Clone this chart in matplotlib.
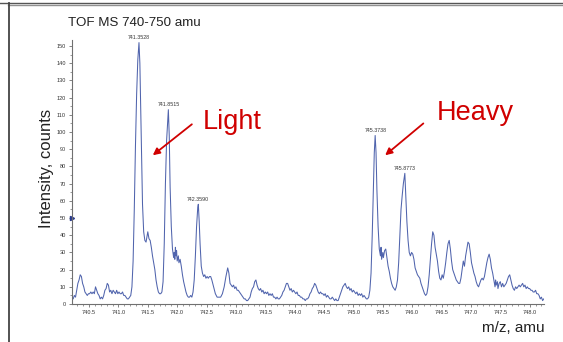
import matplotlib
matplotlib.use("Agg")
import matplotlib.pyplot as plt
from matplotlib.lines import Line2D
from matplotlib.ticker import MultipleLocator

plt.rcParams["font.family"] = ["Liberation Sans", "DejaVu Sans"]

title = "TOF MS 740-750 amu"
x_label = "m/z, amu"
y_label = "Intensity, counts"

# (m/z, counts)
spectrum = [
    (740.21, 3), (740.23, 3), (740.25, 5), (740.27, 4), (740.29, 8), (740.31, 12),
    (740.33, 14), (740.35, 17), (740.37, 16), (740.39, 12), (740.41, 10), (740.43, 7),
    (740.45, 6), (740.47, 5), (740.49, 6), (740.51, 6), (740.53, 7), (740.55, 6),
    (740.57, 7), (740.59, 6), (740.61, 10), (740.63, 8), (740.65, 6), (740.67, 5),
    (740.69, 3), (740.71, 4), (740.73, 3), (740.75, 5), (740.77, 8), (740.79, 9),
    (740.81, 12), (740.83, 11), (740.85, 7), (740.87, 8), (740.89, 6), (740.91, 8),
    (740.93, 7), (740.95, 6), (740.97, 8), (740.99, 6), (741.01, 7), (741.03, 6),
    (741.05, 6), (741.07, 7), (741.09, 5), (741.11, 5), (741.13, 4), (741.15, 3),
    (741.17, 3), (741.19, 4), (741.21, 5), (741.23, 10), (741.25, 25), (741.27, 55),
    (741.29, 92), (741.31, 122), (741.33, 142), (741.35, 152),
    (741.365, 140), (741.38, 112), (741.395, 82), (741.41, 58), (741.43, 42),
    (741.45, 37), (741.47, 36), (741.49, 40), (741.50, 42), (741.52, 38), (741.54, 37),
    (741.56, 33), (741.58, 28), (741.60, 24), (741.62, 20), (741.64, 14), (741.66, 10),
    (741.68, 7), (741.70, 6), (741.72, 6), (741.74, 7), (741.76, 13), (741.78, 35),
    (741.80, 70), (741.82, 95), (741.835, 104), (741.85, 113), (741.865, 98),
    (741.88, 68), (741.90, 45), (741.92, 32), (741.94, 27), (741.95, 30), (741.96, 26),
    (741.97, 33), (741.98, 28), (741.99, 31), (742.00, 25), (742.02, 28), (742.03, 24),
    (742.05, 26), (742.07, 22), (742.09, 17), (742.11, 13), (742.13, 10), (742.15, 7),
    (742.17, 5), (742.19, 4), (742.21, 4), (742.23, 5), (742.25, 4), (742.27, 7),
    (742.29, 14), (742.31, 28), (742.33, 45), (742.35, 56), (742.36, 58), (742.375, 48),
    (742.39, 35), (742.41, 22), (742.43, 18), (742.45, 16), (742.47, 17), (742.49, 15),
    (742.51, 16), (742.53, 15), (742.55, 16), (742.57, 16), (742.59, 14), (742.62, 10),
    (742.65, 6), (742.68, 4), (742.71, 4), (742.74, 4), (742.77, 6), (742.80, 10),
    (742.83, 16), (742.86, 21), (742.88, 18), (742.90, 12), (742.92, 11), (742.94, 10),
    (742.96, 11), (742.98, 9), (743.00, 10), (743.02, 8), (743.04, 8), (743.06, 7),
    (743.08, 6), (743.10, 5), (743.12, 4), (743.14, 3), (743.16, 3), (743.18, 2),
    (743.20, 2), (743.22, 3), (743.24, 4), (743.26, 7), (743.28, 9), (743.30, 10),
    (743.32, 13), (743.34, 14), (743.36, 11), (743.38, 9), (743.40, 8), (743.42, 9),
    (743.44, 7), (743.46, 8), (743.48, 6), (743.50, 7), (743.52, 6), (743.54, 7),
    (743.56, 5), (743.58, 6), (743.60, 5), (743.62, 6), (743.64, 4), (743.66, 4),
    (743.68, 3), (743.70, 4), (743.72, 3), (743.74, 3), (743.76, 4), (743.78, 5),
    (743.80, 7), (743.82, 8), (743.84, 10), (743.86, 12), (743.88, 12), (743.90, 10),
    (743.92, 8), (743.94, 9), (743.96, 7), (743.98, 8), (744.00, 7), (744.02, 6),
    (744.04, 7), (744.06, 5), (744.08, 5), (744.10, 4), (744.12, 4), (744.14, 3),
    (744.16, 3), (744.18, 2), (744.20, 3), (744.22, 3), (744.24, 4), (744.26, 6),
    (744.28, 7), (744.30, 9), (744.32, 10), (744.34, 12), (744.36, 11), (744.38, 9),
    (744.40, 7), (744.42, 6), (744.44, 7), (744.46, 6), (744.48, 6), (744.50, 5),
    (744.52, 6), (744.54, 4), (744.56, 5), (744.58, 4), (744.60, 3), (744.62, 3),
    (744.64, 4), (744.66, 3), (744.68, 2), (744.70, 3), (744.72, 2), (744.74, 2),
    (744.76, 4), (744.78, 6), (744.80, 8), (744.82, 10), (744.84, 11), (744.86, 12),
    (744.88, 10), (744.90, 9), (744.92, 10), (744.94, 8), (744.96, 9), (744.98, 7),
    (745.00, 8), (745.02, 7), (745.04, 6), (745.06, 7), (745.08, 5), (745.10, 6),
    (745.12, 5), (745.14, 6), (745.16, 4), (745.18, 5), (745.20, 4), (745.22, 3),
    (745.24, 3), (745.26, 4), (745.28, 8), (745.30, 18), (745.32, 40), (745.34, 68),
    (745.355, 88), (745.37, 98), (745.385, 88), (745.40, 66), (745.42, 45),
    (745.44, 32), (745.46, 28), (745.47, 33), (745.48, 26), (745.50, 30), (745.51, 27),
    (745.53, 31), (745.55, 32), (745.57, 27), (745.59, 22), (745.61, 19), (745.63, 15),
    (745.65, 12), (745.67, 10), (745.69, 9), (745.71, 8), (745.73, 10), (745.75, 14),
    (745.77, 24), (745.79, 40), (745.81, 55), (745.83, 63), (745.85, 70), (745.875, 76),
    (745.89, 64), (745.91, 48), (745.93, 37), (745.95, 30), (745.97, 28), (745.99, 30),
    (746.01, 29), (746.03, 26), (746.05, 21), (746.07, 19), (746.09, 17), (746.11, 16),
    (746.13, 15), (746.15, 12), (746.17, 10), (746.19, 8), (746.21, 6), (746.23, 5),
    (746.25, 6), (746.27, 10), (746.29, 17), (746.31, 26), (746.33, 35), (746.35, 42),
    (746.37, 40), (746.39, 33), (746.41, 29), (746.43, 25), (746.45, 19), (746.47, 15),
    (746.49, 14), (746.51, 17), (746.53, 15), (746.55, 19), (746.57, 24), (746.59, 30),
    (746.61, 35), (746.63, 37), (746.65, 32), (746.67, 25), (746.69, 20), (746.71, 18),
    (746.73, 16), (746.75, 14), (746.77, 13), (746.79, 12), (746.81, 12), (746.83, 15),
    (746.85, 20), (746.87, 25), (746.89, 22), (746.91, 28), (746.93, 32), (746.95, 36),
    (746.97, 35), (746.99, 30), (747.01, 24), (747.03, 21), (747.05, 18), (747.07, 16),
    (747.09, 13), (747.11, 11), (747.13, 10), (747.15, 12), (747.17, 14), (747.19, 15),
    (747.21, 14), (747.23, 16), (747.25, 20), (747.27, 24), (747.29, 27), (747.31, 29),
    (747.33, 26), (747.35, 21), (747.37, 18), (747.39, 14), (747.41, 10), (747.42, 14),
    (747.43, 11), (747.45, 13), (747.46, 9), (747.48, 12), (747.50, 13), (747.52, 10),
    (747.54, 12), (747.56, 10), (747.58, 11), (747.60, 12), (747.62, 14), (747.64, 16),
    (747.66, 17), (747.68, 14), (747.70, 11), (747.72, 9), (747.74, 8), (747.76, 10),
    (747.78, 9), (747.80, 10), (747.82, 11), (747.84, 10), (747.86, 11), (747.88, 12),
    (747.90, 10), (747.92, 11), (747.94, 9), (747.96, 10), (747.98, 9), (748.00, 9),
    (748.02, 8), (748.04, 8), (748.06, 7), (748.08, 7), (748.10, 8), (748.12, 6),
    (748.14, 6), (748.16, 5), (748.18, 3), (748.20, 4), (748.22, 2), (748.24, 3),
]

# labelled peaks: (m/z, counts)
peaks = [(741.3528, 152), (741.8515, 113), (742.3590, 58),
         (745.3738, 98), (745.8773, 76)]

# callouts: text, text position, arrow start, arrow tip (data units)
callouts = [
    ("Light", (742.44, 106), (742.25, 104.5), (741.585, 86.5)),
    ("Heavy", (746.42, 111), (746.19, 105), (745.54, 86.5)),
]

mz = [p[0] for p in spectrum]
counts = [p[1] for p in spectrum]

fig = plt.figure(figsize=(5.63, 3.42), dpi=100)
ax = fig.add_axes([0.1279, 0.111, 0.839, 0.772])

ax.plot(mz, counts, color="#5064ad", lw=0.75)

for x, y in peaks:
    ax.text(x, y + 1.5, "%.4f" % x, fontsize=3.8, color="#333333",
            ha="center", va="bottom")

for label, txt_pos, start, tip in callouts:
    ax.annotate("", xy=tip, xytext=start,
                arrowprops=dict(arrowstyle="-|>", color="#d00000", lw=1.3,
                                mutation_scale=10, shrinkA=0, shrinkB=0))
    ax.text(txt_pos[0], txt_pos[1], label, fontsize=19.5, color="#d00000",
            ha="left", va="center")

# small threshold marker on the y axis
ax.plot([740.21], [50], marker=">", ms=3, color="#2a3a8a", clip_on=False)

ax.set_xlim(740.21, 748.25)
ax.set_ylim(0, 153.5)
ax.xaxis.set_major_locator(MultipleLocator(0.5))
ax.xaxis.set_minor_locator(MultipleLocator(0.1))
ax.yaxis.set_major_locator(MultipleLocator(10))
ax.yaxis.set_minor_locator(MultipleLocator(5))
ax.xaxis.set_major_formatter(plt.FormatStrFormatter("%.1f"))

for s in ["top", "right"]:
    ax.spines[s].set_visible(False)
for s in ["left", "bottom"]:
    ax.spines[s].set_color("#707070")
    ax.spines[s].set_linewidth(0.8)

ax.tick_params(which="major", length=2.5, width=0.6, color="#707070",
               labelsize=4, labelcolor="#333333", pad=2)
ax.tick_params(which="minor", length=1.5, width=0.5, color="#707070")

fig.text(68 / 563, 1 - 23 / 342, title, fontsize=9.6, color="#222222",
         ha="left", va="center")
fig.text(46 / 563, 1 - 168 / 342, y_label, fontsize=12, color="#222222",
         rotation=90, ha="center", va="center")
fig.text(545 / 563, 1 - 328 / 342, x_label, fontsize=11, color="#222222",
         ha="right", va="center")

# outer frame lines
fig.add_artist(Line2D([0, 1], [1 - 2.5 / 342] * 2, color="#555555", lw=1.0,
                      transform=fig.transFigure))
fig.add_artist(Line2D([8 / 563, 1], [1 - 5.0 / 342] * 2, color="#909090", lw=1.0,
                      transform=fig.transFigure))
fig.add_artist(Line2D([8.5 / 563] * 2, [0, 1 - 3 / 342], color="#444444", lw=1.3,
                      transform=fig.transFigure))

fig.savefig("out.png", dpi=100)
